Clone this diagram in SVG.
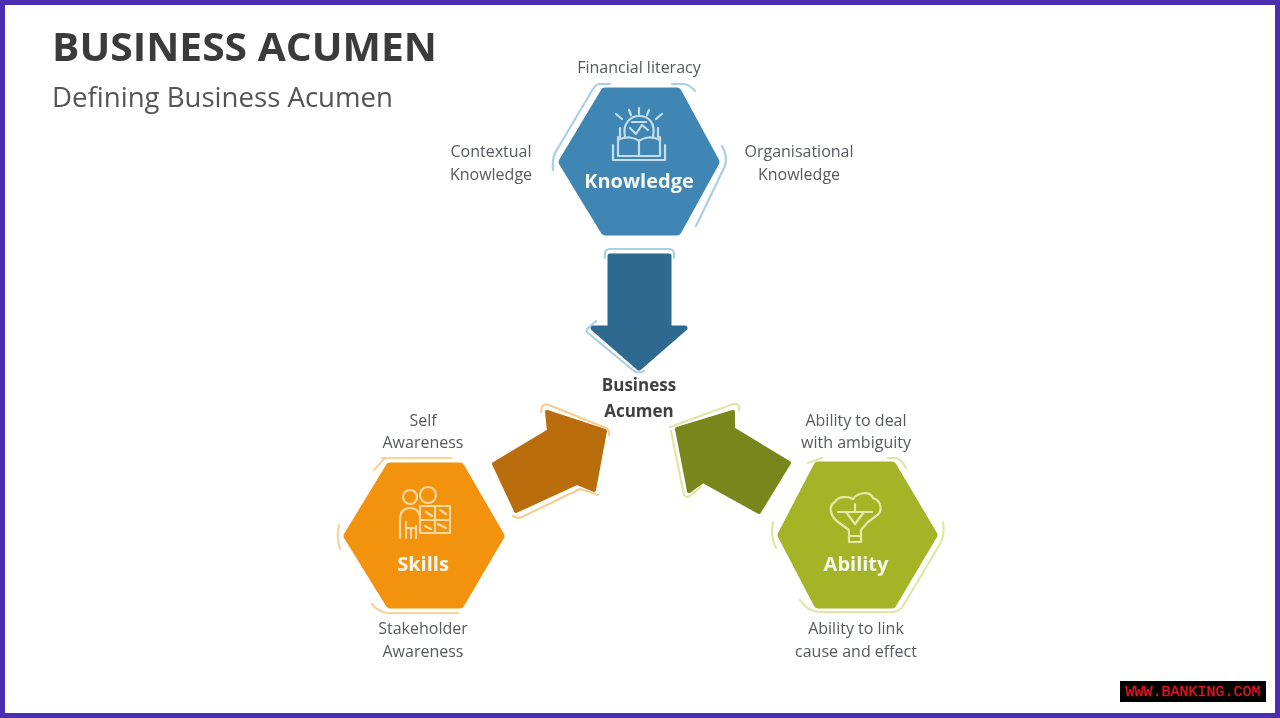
<svg xmlns="http://www.w3.org/2000/svg" width="1280" height="718" viewBox="0 0 1280 718">
<defs>
<style>
.t{font-family:"Open Sans","Liberation Sans",sans-serif;text-anchor:middle}
.lab{font-size:16px;fill:#55595e}
.hl{font-size:20px;font-weight:700;fill:#f6f8ee}
.ic{fill:none;stroke-width:2.2;stroke-linecap:round;stroke-linejoin:round}
.deco{fill:none;stroke-width:2.2;stroke-linecap:round;stroke-linejoin:round}
</style>
<filter id="b" x="-5%" y="-5%" width="110%" height="110%"><feGaussianBlur stdDeviation="0.7"/></filter>
<filter id="w" x="-5%" y="-20%" width="110%" height="140%"><feGaussianBlur stdDeviation="0.3"/></filter>
</defs>
<rect width="1280" height="718" fill="#fff"/>
<g filter="url(#b)">
<text class="t" x="52" y="61" font-size="39" font-weight="700" fill="#3a3a3a" style="text-anchor:start" textLength="385" lengthAdjust="spacingAndGlyphs">BUSINESS ACUMEN</text>
<text class="t" x="52" y="107" font-size="27" fill="#555" style="text-anchor:start" textLength="341" lengthAdjust="spacingAndGlyphs">Defining Business Acumen</text>

<g id="connectors">
<g id="arrow-down">
<path d="M610 256H669V328H685L639 368L593 328H610Z" fill="#2f6a90" stroke="#2f6a90" stroke-width="5" stroke-linejoin="round"/>
<path d="M605 258V254Q605 249 610 249H669Q674 249 674 254V258M596 321L587 329Q586 331 588 333L634 371Q639 374 644 371" class="deco" stroke="#a9cfe3"/>
</g>
<g id="arrow-orange">
<path d="M494 464L549 431L547 412L605 431L594 490L577 483L516 511Z" fill="#b96d08" stroke="#b96d08" stroke-width="4" stroke-linejoin="round"/>
<path d="M541 412L542 407Q544 403 549 405L606 428Q610 430 609 435M598 495L580 489L522 517Q517 519 513 516" class="deco" stroke="#f3cf94"/>
</g>
<g id="arrow-green">
<path d="M677 429L733 412L733 429L789 463L759 512L703 481L689 491Z" fill="#78871c" stroke="#78871c" stroke-width="4" stroke-linejoin="round"/>
<path d="M670 427L733 404Q741 403 739 411M671 431L684 495Q686 498 690 496L701 487" class="deco" stroke="#dfe7a4"/>
</g>
</g>

<g id="knowledge">
<path d="M605 92H677L715 162L677 231H605L563 162Z" fill="#3f86b5" stroke="#3f86b5" stroke-width="9" stroke-linejoin="round"/>
<path d="M610 84H600Q596 84 593 89L555 153Q552 160 553 170M672 84H684Q690 85 695 91M722 146Q728 156 725 166L696 226" class="deco" stroke="#a9cfe3"/>
<g class="ic" stroke="#c6deec">
<path d="M620 128V137M658 128V137M622 119L616 114M656 119L662 114M639 108V114M629 110L631 115M649 110L647 115"/>
<path d="M625 137C622 122 632 116 639 116C648 116 656 122 653 137"/>
<path d="M630 128L636 134L642 125L648 130M632 122H646"/>
<path d="M618 137V156H660V137M639 140V156M618 140C626 136 634 137 639 141C644 137 652 136 660 140M613 145V160H665V145M634 160H644"/>
</g>
<text class="t hl" x="639" y="188">Knowledge</text>
</g>

<g id="skills">
<path d="M390 467H460L500 536L460 604H390L348 536Z" fill="#f3920a" stroke="#f3920a" stroke-width="9" stroke-linejoin="round"/>
<path d="M382 458H452M374 470L384 459M339 525Q336 537 340 549M372 604Q378 612 388 613H458" class="deco" stroke="#f8d29a"/>
<g class="ic" stroke="#fbd9a3">
<circle cx="410" cy="497" r="7"/><circle cx="428" cy="495" r="8"/>
<path d="M400 538V520Q400 508 410 508Q418 508 420 516M406 538V522M416 526V538M406 528H416M411 528V538"/>
<rect x="420" y="506" width="30" height="27"/>
<path d="M420 520H450M435 506V533M426 512L432 516M438 524L446 528M440 510L446 514M425 526L431 529"/>
</g>
<text class="t hl" x="423" y="571">Skills</text>
</g>

<g id="ability">
<path d="M818 466H892L933 535L892 604H818L782 535Z" fill="#a4b425" stroke="#a4b425" stroke-width="9" stroke-linejoin="round"/>
<path d="M808 463L822 458M888 458H896Q902 460 906 468M773 522Q770 535 776 548M943 522Q945 535 940 544L903 606Q900 611 893 612H820Q808 612 800 600" class="deco" stroke="#dfe7a4"/>
<g class="ic" stroke="#e3eaa8">
<path d="M849 542V530L838 522C830 516 828 506 835 502C838 496 848 496 853 499C858 492 870 491 873 498C882 501 883 512 876 516L868 522L861 530V542Z"/>
<path d="M838 512H872M846 512L855 524L864 512M855 504V512M849 536H861"/>
</g>
<text class="t hl" x="856" y="571">Ability</text>
</g>

<g id="center-label">
<text class="t" x="639" y="391" font-size="17" font-weight="700" fill="#404040">Business</text>
<text class="t" x="639" y="417" font-size="17" font-weight="700" fill="#404040">Acumen</text>
</g>

<g id="labels">
<text class="t lab" x="639" y="73">Financial literacy</text>
<text class="t lab" x="491" y="157">Contextual</text>
<text class="t lab" x="491" y="180">Knowledge</text>
<text class="t lab" x="799" y="157">Organisational</text>
<text class="t lab" x="799" y="180">Knowledge</text>
<text class="t lab" x="423" y="426">Self</text>
<text class="t lab" x="423" y="448">Awareness</text>
<text class="t lab" x="423" y="634">Stakeholder</text>
<text class="t lab" x="423" y="657">Awareness</text>
<text class="t lab" x="856" y="426">Ability to deal</text>
<text class="t lab" x="856" y="448">with ambiguity</text>
<text class="t lab" x="856" y="634">Ability to link</text>
<text class="t lab" x="856" y="657">cause and effect</text>
</g>
</g>
<rect x="2.5" y="2.5" width="1275" height="713" fill="none" stroke="#4b2db0" stroke-width="5"/>
<rect x="1120" y="681" width="146" height="21" fill="#000"/>
<text x="1193" y="696" font-family="Liberation Mono, monospace" font-size="15" fill="#e0161e" stroke="#e0161e" stroke-width="0.4" text-anchor="middle" filter="url(#w)">WWW.BANKING.COM</text>
</svg>
